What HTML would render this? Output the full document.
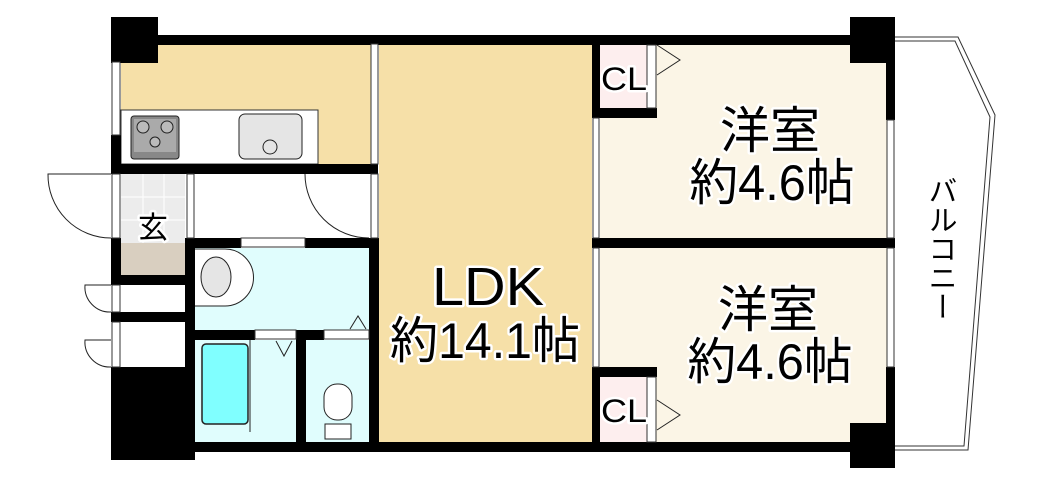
<!DOCTYPE html>
<html><head><meta charset="utf-8"><style>
html,body{margin:0;padding:0;background:#fff;width:1040px;height:487px;overflow:hidden}
text{font-family:"Liberation Sans","Noto Sans CJK JP",sans-serif}
</style></head><body>
<svg width="1040" height="487" viewBox="0 0 1040 487" xmlns="http://www.w3.org/2000/svg">
<rect x="121" y="44" width="250" height="120" fill="#f6e0a8"/>
<rect x="379" y="44" width="213" height="400" fill="#f6e0a8"/>
<rect x="600" y="44" width="288" height="196" fill="#fbf5e6"/>
<rect x="600" y="246" width="288" height="198" fill="#fbf5e6"/>
<rect x="600" y="45" width="47" height="63" fill="#fdeeee"/>
<rect x="600" y="377" width="47" height="66" fill="#fdeeee"/>
<rect x="121" y="174" width="64" height="69" fill="#ececec"/>
<g stroke="#fff" stroke-width="1"><line x1="143" y1="174" x2="143" y2="243"/><line x1="164" y1="174" x2="164" y2="243"/><line x1="121" y1="197" x2="185" y2="197"/><line x1="121" y1="220" x2="185" y2="220"/></g>
<rect x="121" y="243" width="64" height="32" fill="#d9cfc0"/>
<rect x="195" y="248" width="175" height="82" fill="#e0fdfd"/>
<rect x="195" y="340" width="101" height="102" fill="#e0fdfd"/>
<rect x="306" y="340" width="64" height="102" fill="#e0fdfd"/>
<rect x="121" y="110" width="197" height="54" fill="#fff" stroke="#333" stroke-width="1"/>
<rect x="131" y="116" width="48" height="43" rx="3" fill="#888" stroke="#222"/>
<rect x="134" y="119" width="42" height="33" fill="#aaa"/>
<circle cx="143" cy="127" r="6" fill="#bbb" stroke="#222"/><circle cx="167" cy="127" r="6" fill="#bbb" stroke="#222"/><circle cx="155" cy="142" r="5" fill="#bbb" stroke="#222"/>
<rect x="239" y="114" width="63" height="45" rx="6" fill="#e5e5e5" stroke="#222"/>
<circle cx="270" cy="147" r="7" fill="#e5e5e5" stroke="#222"/>
<path d="M195 249 H225 A25 25 0 0 1 225 306 H195" fill="#fff" stroke="#222"/>
<ellipse cx="216" cy="277" rx="15" ry="20" fill="#e5e5e5" stroke="#222"/>
<rect x="202" y="344" width="46" height="80" rx="4" fill="#80ffff" stroke="#222" stroke-width="1.5"/>
<line x1="250" y1="340" x2="250" y2="432" stroke="#222"/>
<rect x="324" y="384" width="28" height="36" rx="13" fill="#fff" stroke="#222"/>
<rect x="325" y="424" width="26" height="15" fill="#fff" stroke="#222"/>
<g fill="none" stroke="#222" stroke-width="1">
<path d="M111 174 H48 A63 63 0 0 0 111 238"/>
<path d="M305 174 A64 64 0 0 0 369 238"/>
<path d="M111 285 H85 A25 25 0 0 0 111 312"/>
<path d="M111 340 H85 A25 25 0 0 0 111 367"/>
<path d="M657 45 L680 60 L657 75"/>
<path d="M657 400 L680 415 L657 430"/>
<path d="M350 329 L358 316 L366 329"/>
<path d="M276 341 L284 356 L292 341"/>
</g>
<path d="M895 37 H958 L995 115 L968 450 H895" fill="#fff" stroke="#333" stroke-width="1"/>
<path d="M895 41 H955 L990 117 L964 446 H895" fill="none" stroke="#333" stroke-width="1"/>
<g fill="#000">
<rect x="111" y="17" width="47" height="46"/>
<rect x="158" y="35" width="692" height="10"/>
<rect x="111" y="17" width="10" height="45"/>
<rect x="111" y="135" width="10" height="39"/>
<rect x="111" y="164" width="267" height="10"/>
<rect x="111" y="238" width="10" height="47"/>
<rect x="111" y="275" width="84" height="10"/>
<rect x="111" y="312" width="84" height="10"/>
<rect x="111" y="367" width="84" height="93"/>
<rect x="111" y="440" width="47" height="20"/>
<rect x="185" y="238" width="10" height="214"/>
<rect x="185" y="238" width="56" height="10"/>
<rect x="305" y="238" width="73" height="10"/>
<rect x="195" y="330" width="60" height="10"/>
<rect x="296" y="330" width="10" height="112"/>
<rect x="296" y="330" width="28" height="10"/>
<rect x="111" y="442" width="739" height="10"/>
<rect x="369" y="238" width="10" height="214"/>
<rect x="592" y="35" width="8" height="83"/>
<rect x="592" y="108" width="65" height="10"/>
<rect x="592" y="367" width="65" height="10"/>
<rect x="592" y="367" width="8" height="85"/>
<rect x="592" y="238" width="303" height="10"/>
<rect x="850" y="17" width="45" height="46"/>
<rect x="850" y="423" width="45" height="45"/>
<rect x="886" y="63" width="9" height="57"/>
<rect x="886" y="367" width="9" height="60"/>
</g>
<g fill="#fff" stroke="#333" stroke-width="1">
<rect x="112" y="62" width="8" height="73"/>
<rect x="241" y="238" width="64" height="9"/>
<rect x="255" y="330" width="41" height="9"/>
<rect x="324" y="330" width="45" height="9"/>
<rect x="371" y="44" width="7" height="120"/>
<rect x="371" y="174" width="7" height="64"/>
<rect x="187" y="174" width="7" height="64"/>
<rect x="112" y="174" width="8" height="64"/>
<rect x="112" y="285" width="8" height="27"/>
<rect x="112" y="322" width="8" height="45"/>
<rect x="593" y="118" width="6" height="120"/>
<rect x="593" y="248" width="6" height="119"/>
<rect x="887" y="120" width="7" height="118"/>
<rect x="887" y="248" width="7" height="119"/>
<rect x="647" y="45" width="9" height="63"/>
<rect x="647" y="377" width="9" height="65"/>
</g>
<g fill="#000" stroke="#fff" stroke-width="5" paint-order="stroke" stroke-linejoin="round" text-anchor="middle">
<text x="153" y="238" font-size="30">玄</text>
<text x="488" y="305" font-size="54" textLength="112" lengthAdjust="spacingAndGlyphs">LDK</text>
<text x="485" y="358" font-size="50" textLength="190" lengthAdjust="spacingAndGlyphs">約14.1帖</text>
<text x="770" y="148" font-size="50" textLength="100" lengthAdjust="spacingAndGlyphs">洋室</text>
<text x="772" y="200" font-size="50" textLength="165" lengthAdjust="spacingAndGlyphs">約4.6帖</text>
<text x="768" y="327" font-size="50" textLength="100" lengthAdjust="spacingAndGlyphs">洋室</text>
<text x="770" y="379" font-size="50" textLength="165" lengthAdjust="spacingAndGlyphs">約4.6帖</text>
<text x="624" y="90" font-size="32" textLength="46" lengthAdjust="spacingAndGlyphs">CL</text>
<text x="624" y="422" font-size="32" textLength="46" lengthAdjust="spacingAndGlyphs">CL</text>
</g>
<text x="940" y="176" font-size="29" style="writing-mode:vertical-rl" fill="#000">バルコニー</text>
</svg>
</body></html>
